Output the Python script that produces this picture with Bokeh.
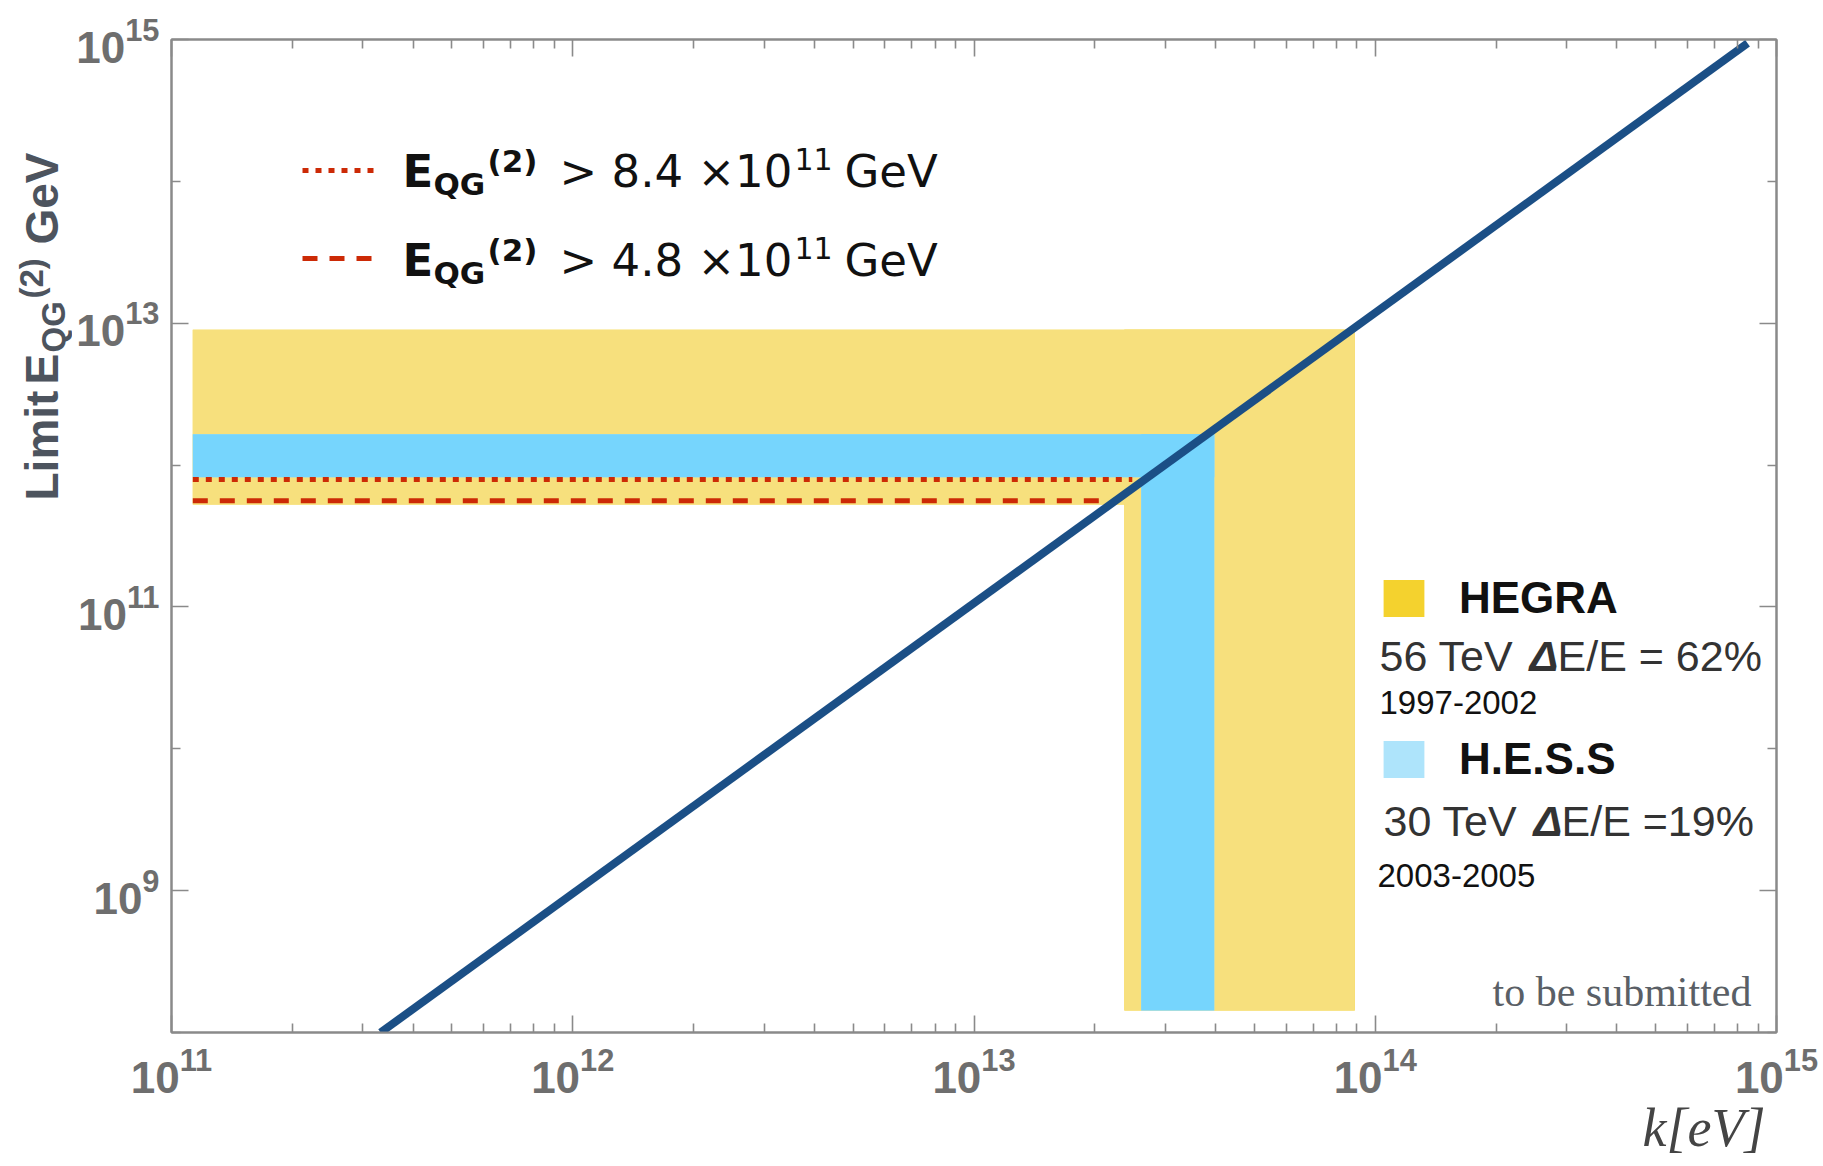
import math
from bokeh.plotting import figure
from bokeh.layouts import row
from bokeh.models import (LogAxis, FixedTicker, Label, Range1d, Legend, LegendItem, Title,
                          CustomJSTickFormatter, ColumnDataSource)
from bokeh.core.validation import silence
from bokeh.core.validation.warnings import MISSING_RENDERERS
from bokeh.embed import file_html
from bokeh.resources import INLINE

silence(MISSING_RENDERERS, True)

# ---------------- data ----------------
k_limits = [1e11, 1e15]          # k [eV]
E_limits = [1e8, 1e15]           # E_QG^(2) [GeV]
x_major_ticks = [1e11, 1e12, 1e13, 1e14, 1e15]
y_major_ticks = [1e9, 1e11, 1e13, 1e15]
y_minor_ticks = [1e8, 1e10, 1e12, 1e14]

# limit curve (straight line in log-log)
limit_k = [3.32e11, 8.47e14]
limit_E = [1.0e8, 9.4e14]

# HEGRA band (horizontal arm, vertical arm)
hegra_left = [1.13e11, 2.37e13]
hegra_right = [8.89e13, 8.89e13]
hegra_bottom = [5.27e11, 1.43e8]
hegra_top = [9.0e12, 9.0e12]

# H.E.S.S band (horizontal arm, vertical arm)
hess_left = [1.13e11, 2.61e13]
hess_right = [3.97e13, 3.97e13]
hess_bottom = [8.2e11, 1.43e8]
hess_top = [1.65e12, 1.65e12]

# bounds
dotted_k = [1.13e11, 2.48e13]
dotted_E = [7.9e11, 7.9e11]
dashed_k = [1.13e11, 2.16e13]
dashed_E = [5.6e11, 5.6e11]

bound_values = ["8.4", "4.8"]

# ---------------- geometry ----------------
W, H = 1823, 1166
LEFT_W = 72            # narrow figure holding the rotated y label
FL, FR, FT, FB = 171, 1776, 39, 1032   # frame edges in page pixels

main = figure(width=W - LEFT_W, height=H, x_axis_type="log", y_axis_type="log",
              x_range=Range1d(*k_limits), y_range=Range1d(*E_limits),
              output_backend="svg", toolbar_location=None,
              min_border_left=FL - LEFT_W, min_border_right=W - FR,
              min_border_top=FT, min_border_bottom=H - FB)
main.grid.visible = False
main.outline_line_color = "#8a8a8a"
main.outline_line_width = 2

x_minor = [m * d for d in x_major_ticks[:-1] for m in range(2, 10)]
xt = FixedTicker(ticks=x_major_ticks, minor_ticks=x_minor)
yt = FixedTicker(ticks=y_major_ticks, minor_ticks=y_minor_ticks)

AX = "#8a8a8a"
def style_axis(ax, show_labels):
    ax.axis_line_color = AX
    ax.axis_line_width = 2
    ax.major_tick_line_color = AX
    ax.minor_tick_line_color = AX
    ax.major_tick_line_width = 1.6
    ax.minor_tick_line_width = 1.6
    ax.major_tick_in = 17
    ax.major_tick_out = 0
    ax.minor_tick_in = 9
    ax.minor_tick_out = 0
    if show_labels:
        ax.major_label_text_font = "Liberation Sans"
        ax.major_label_text_font_style = "bold"
        ax.major_label_text_font_size = "44px"
        ax.major_label_text_color = "#6e6e6e"
    else:
        ax.formatter = CustomJSTickFormatter(code="return ''")
        ax.major_label_text_font_size = "1px"
        ax.major_label_standoff = 0

xa = main.xaxis[0]
xa.ticker = xt
style_axis(xa, True)
xa.major_label_standoff = 14

ya = main.yaxis[0]
ya.ticker = yt
style_axis(ya, True)
ya.major_label_standoff = 12

top_ax = LogAxis(ticker=xt)
style_axis(top_ax, False)
main.add_layout(top_ax, "above")
right_ax = LogAxis(ticker=yt)
style_axis(right_ax, False)
main.add_layout(right_ax, "right")

# x-axis title, right-aligned below the tick labels
main.add_layout(Title(text="k[eV]", align="right", offset=11, standoff=0,
                      vertical_align="bottom",
                      text_font="Liberation Serif", text_font_style="italic",
                      text_font_size="54px", text_color="#444444"), "below")

# ---------------- bands ----------------
src_hegra = ColumnDataSource(dict(left=hegra_left, right=hegra_right, bottom=hegra_bottom, top=hegra_top))
src_hess = ColumnDataSource(dict(left=hess_left, right=hess_right, bottom=hess_bottom, top=hess_top))
q = dict(left="left", right="right", bottom="bottom", top="top", line_color=None)
# legend swatch colours (hidden underneath the bands)
hegra_sw = main.quad(source=src_hegra, fill_color="#f4d22e", **q)
main.quad(source=src_hegra, fill_color="#f7e07d", **q)
hess_sw = main.quad(source=src_hess, fill_color="#aee4fb", **q)
main.quad(source=src_hess, fill_color="#76d5fd", **q)

RED = "#cc2a06"
dotted_r = main.line(dotted_k, dotted_E, line_color=RED, line_width=5, line_dash="6 7")
dashed_r = main.line(dashed_k, dashed_E, line_color=RED, line_width=5, line_dash="15 12")

main.line(limit_k, limit_E, line_color="#1b4f86", line_width=8)

# ---------------- legends ----------------
leg_top = Legend(items=[LegendItem(label=" ", renderers=[dotted_r]),
                        LegendItem(label=" ", renderers=[dashed_r])],
                 location=(302 - FL, FB - 278), orientation="vertical",
                 glyph_width=72, glyph_height=40, label_height=40, label_width=1,
                 spacing=48, padding=0, margin=0, label_standoff=0,
                 label_text_font_size="1px",
                 background_fill_alpha=0, border_line_alpha=0)
main.add_layout(leg_top)

leg_right = Legend(items=[LegendItem(label="HEGRA", renderers=[hegra_sw]),
                          LegendItem(label="H.E.S.S", renderers=[hess_sw])],
                   location=(1378 - FL, FB - 785), orientation="vertical",
                   glyph_width=51, glyph_height=46, label_height=52,
                   spacing=109, padding=0, margin=0, label_standoff=30,
                   label_text_font="Liberation Sans", label_text_font_style="bold",
                   label_text_font_size="44px", label_text_color="#111111",
                   background_fill_alpha=0, border_line_alpha=0)
main.add_layout(leg_right)

# ---------------- side figure for the rotated y label ----------------
left_fig = figure(width=LEFT_W, height=H, x_range=Range1d(0, 1), y_range=Range1d(0, 1),
                  x_axis_location=None, y_axis_location=None,
                  output_backend="svg", toolbar_location=None, min_border=0)
left_fig.grid.visible = False
left_fig.outline_line_color = None

def txt(fig, ox, obottom, text, X, Y, size, style="normal", font="Liberation Sans",
        color="#222222", angle=0.0):
    """X, Y: page pixels of the text start on its baseline."""
    mid = 0.345 * size
    if angle == 0.0:
        sx, sy = X - ox, obottom - (Y - mid)
    else:  # rotated 90 deg counter-clockwise
        sx, sy = (X - mid) - ox, obottom - Y
    fig.add_layout(Label(x=sx, y=sy, x_units="screen", y_units="screen",
                         text=text, angle=angle, text_font=font, text_font_style=style,
                         text_font_size=f"{size}px", text_color=color,
                         text_align="left", text_baseline="middle"))

def mtxt(*a, **k):
    txt(main, FL, FB, *a, **k)

# top legend text
DK = "#111111"
for base, num in zip((187, 276), bound_values):
    mtxt("E", 402, base, 45, "bold", "DejaVu Sans", DK)
    mtxt("QG", 433, base + 7, 31, "bold", "DejaVu Sans", DK)
    mtxt("(2)", 487, base - 16, 31, "bold", "DejaVu Sans", DK)
    mtxt(f"> {num} \u00d710", 559, base, 45, "normal", "DejaVu Sans", DK)
    mtxt("11", 794, base - 18, 30, "normal", "DejaVu Sans", DK)
    mtxt("GeV", 844, base, 45, "normal", "DejaVu Sans", DK)

# right legend text
GT = "#333333"
mtxt("56 TeV ", 1379, 670, 43, color=GT)
mtxt("\u0394", 1529, 670, 43, "bold italic", color=GT)
mtxt("E/E = 62%", 1557, 670, 43, color=GT)
mtxt("1997-2002", 1379, 713, 33, color=DK)
mtxt("30 TeV ", 1383, 835, 43, color=GT)
mtxt("\u0394", 1533, 835, 43, "bold italic", color=GT)
mtxt("E/E =19%", 1561, 835, 43, color=GT)
mtxt("2003-2005", 1377, 886, 33, color=DK)

mtxt("to be submitted", 1492, 1006, 42, "normal", "Liberation Serif", "#5a5f66")

# rotated y-axis label (left figure's frame is aligned with the main frame)
YC = "#4d545e"
up = math.pi / 2
def ytxt(text, X, Y, size):
    txt(left_fig, 0, FB, text, X, Y, size, "bold", "Liberation Sans", YC, angle=up)
ytxt("Limit", 57, 500, 46)
ytxt("E", 57, 384, 46)
ytxt("QG", 64, 352, 33)
ytxt("(2)", 42, 298, 33)
ytxt("GeV", 57, 244, 46)

layout = row(left_fig, main, spacing=0)
open("out.html", "w").write(file_html(layout, INLINE))
